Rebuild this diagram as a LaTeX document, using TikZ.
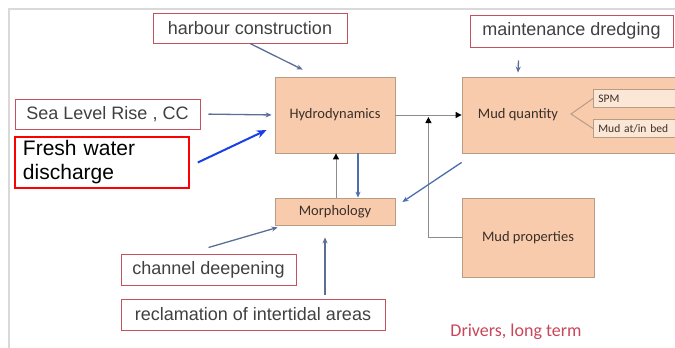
\documentclass[tikz,border=0pt]{standalone}
\usepackage{fontspec}
\setmainfont{Liberation Sans}
\newfontfamily\calibri{Carlito}
\usetikzlibrary{arrows.meta}
\definecolor{cpeach}{HTML}{F8CBAD}
\definecolor{cedge}{HTML}{B89C84}
\definecolor{cpale}{HTML}{FCE6D6}
\definecolor{cdark}{HTML}{3A3028}
\definecolor{cdrv}{HTML}{C4515C}
\definecolor{ctext}{HTML}{404040}
\definecolor{cslate}{HTML}{5B6E96}
\definecolor{cblue}{HTML}{1A3FE6}
\definecolor{cmid}{HTML}{4C6EAD}
\definecolor{clink}{HTML}{8C8C8C}
\definecolor{cframe}{HTML}{D9D9D9}
\definecolor{cred}{HTML}{C8465A}
\tikzset{
  every picture/.style={line width=0.8pt},
  block/.style={draw=cedge, fill=cpeach, text=cdark, inner sep=0pt,
    font=\calibri\fontsize{14.5}{17}\selectfont},
  subbox/.style={draw=cedge, fill=cpale, text=cdark, anchor=west, align=left,
    text width=100pt, inner xsep=5pt, inner ysep=0pt, minimum height=18pt,
    font=\calibri\fontsize{11.5}{13}\selectfont},
  driver/.style={draw=cdrv, line width=1pt, text=ctext, inner sep=0pt,
    font=\fontsize{18}{21}\selectfont},
  push/.style={-{Stealth[length=6pt, width=5pt]}, draw=cslate, line width=1.3pt},
  link/.style={-{Triangle[length=6pt, width=6pt, black]}, draw=clink, line width=1pt},
}

\begin{document}
\begin{tikzpicture}[x=1pt, y=-1pt]
  \useasboundingbox (0,0) rectangle (675,348);
  \draw[cframe, line width=1.5pt] (9,348) -- (9,9) -- (675,9);
  \node[block, minimum width=120pt, minimum height=76pt] (hydro) at (335,115) {Hydrodynamics};
  \node[block, minimum width=120pt, minimum height=27pt] (morph) at (335,211.5) {Morphology};
  \node[block, minimum width=216pt, minimum height=76pt] (mudq) at (570,115) {};
  \node[text=cdark, font=\calibri\fontsize{14.5}{17}\selectfont] (mudqtxt) at (518,115) {Mud quantity};
  \node[subbox] (spm) at (593,98.5) {SPM};
  \node[subbox] (bed) at (593,128.5) {Mud at/in bed};
  \draw[cedge, line width=1pt] (spm.west) -- (571,114) -- (bed.west);
  \node[block, minimum width=132pt, minimum height=79pt] (mudp) at (528,237.5) {Mud properties};
  \node[driver, minimum width=194pt, minimum height=30pt] (harb) at (250,28) {harbour construction};
  \node[driver, minimum width=203pt, minimum height=32pt] (maint) at (571.5,31) {maintenance dredging};
  \node[driver, minimum width=185pt, minimum height=30pt] (slr) at (107.5,114) {Sea Level Rise , CC};
  \node[draw=red, line width=1.6pt, text=black, align=left, text width=158pt, inner xsep=8pt,
    inner ysep=0pt, minimum height=51pt, font=\fontsize{21}{24}\selectfont] (fresh) at (102,162.5) {Fresh water\\discharge};
  \node[driver, minimum width=175pt, minimum height=31pt] (chan) at (208.5,269.5) {channel deepening};
  \node[driver, minimum width=264pt, minimum height=31pt] (recl) at (253,314.5) {reclamation of intertidal areas};
  \node[text=cred, font=\calibri\fontsize{18}{21}\selectfont] (drv) at (516,332) {Drivers, long term};
  \draw[push] (harb.south) -- ([xshift=28pt, yshift=7pt]hydro.north west);
  \draw[push, shorten <=8pt, shorten >=3pt] (slr.east) -- (hydro.west);
  \draw[-{Stealth[length=10pt, width=8pt]}, draw=cblue, line width=2pt]
    ([xshift=8pt]fresh.east) -- ([xshift=-8pt, yshift=-15pt]hydro.west);
  \draw[push] ([xshift=-53pt, yshift=-13pt]maint.south) -- ([xshift=-52pt, yshift=4pt]mudq.north);
  \draw[link] (hydro.east) -- (mudq.west);
  \draw[link] (mudp.west) -| ([xshift=33pt, yshift=-2pt]hydro.east);
  \draw[link] ([xshift=1pt]morph.north) -- ([xshift=1pt]hydro.south);
  \draw[push, draw=cmid] ([xshift=23pt]hydro.south) -- ([xshift=23pt]morph.north);
  \draw[push, draw=cmid] ([yshift=-9pt]mudq.south west) -- ([xshift=7pt, yshift=9.5pt]morph.east);
  \draw[push] ([yshift=6pt]chan.north) -- ([xshift=3pt, yshift=-2pt]morph.south west);
  \draw[push] ([xshift=72pt, yshift=4pt]recl.north) -- ([xshift=-10pt, yshift=-12pt]morph.south);
\end{tikzpicture}
\end{document}
